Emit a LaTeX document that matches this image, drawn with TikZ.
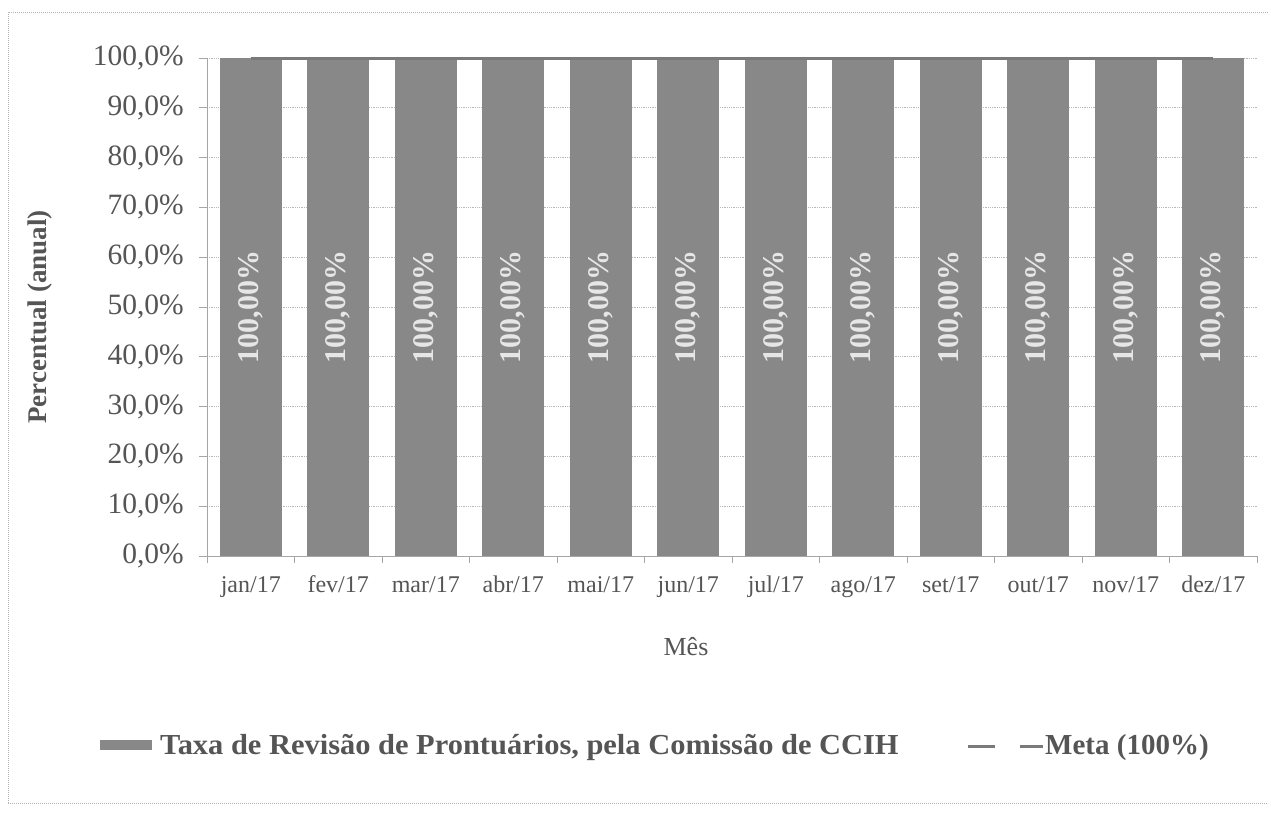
\documentclass[tikz,border=0pt]{standalone}
\usepackage{fontspec}
\setmainfont{Liberation Serif}
\definecolor{bargray}{HTML}{888888}
\definecolor{metagray}{HTML}{7A7A7A}
\definecolor{txtgray}{HTML}{555555}
\definecolor{gridgray}{HTML}{B8B8B8}
\definecolor{lblwhite}{HTML}{E6E6E6}
\tikzset{
  bar/.style={fill=bargray,draw=none},
  ticklbl/.style={font=\fontsize{29.5}{30}\selectfont,text=txtgray,anchor=east,inner sep=0pt},
  xlbl/.style={font=\fontsize{24}{26}\selectfont,text=txtgray,anchor=base,inner sep=0pt},
  barlbl/.style={font=\bfseries\fontsize{30}{30}\selectfont,text=lblwhite,rotate=90,inner sep=0pt},
  gridln/.style={draw=gridgray,densely dotted,line width=0.8pt},
  axisln/.style={draw=gray!70,line width=1pt},
  frameln/.style={draw=gray!60,densely dotted,line width=1pt},
  metaln/.style={draw=metagray,line width=3pt},
  legtxt/.style={font=\bfseries\fontsize{29}{30}\selectfont,text=txtgray,anchor=base west,inner sep=0pt}
}
\begin{document}
\begin{tikzpicture}[x=1pt,y=-1pt]
\useasboundingbox (0,0) rectangle (1271,812);
% frame
\coordinate (fbl) at (8,803);
\coordinate (ftl) at (8,12);
\coordinate (ftr) at (1268,12);
\coordinate (fbr) at (1268,803);
\draw[frameln] (fbl) -- (ftl) -- (ftr);
\draw[frameln] (fbl) -- (fbr);
% grid and y ticks
\foreach \i in {0,...,10}{
  \pgfmathsetmacro{\yy}{556-49.8*\i}
  \coordinate (gl\i) at (207,\yy);
  \coordinate (gr\i) at (1257,\yy);
  \coordinate (tk\i) at (199,\yy);
  \ifnum\i>0 \draw[gridln] (gl\i) -- (gr\i); \fi
  \draw[axisln] (tk\i) -- (gl\i);
  \pgfmathtruncatemacro{\pc}{10*\i}
  \node[ticklbl] (yl\i) at (184,\yy) {\pc,0\%};
}
% bars
\foreach \m [count=\k from 0] in {jan,fev,mar,abr,mai,jun,jul,ago,set,out,nov,dez}{
  \pgfmathsetmacro{\cx}{207+87.5*\k+43.75}
  \pgfmathsetmacro{\xa}{\cx-31}
  \pgfmathsetmacro{\xb}{\cx+31}
  \fill[bar] (\xa,58) rectangle (\xb,556);
  \node[barlbl] (bl\k) at (\cx,307) {100,00\%};
  \node[xlbl] (xl\k) at (\cx,592) {\m/17};
  \coordinate (c\k) at (\cx,58);
  \pgfmathsetmacro{\bx}{207+87.5*(\k+1)}
  \coordinate (xt\k a) at (\bx,556);
  \coordinate (xt\k b) at (\bx,563);
  \draw[axisln] (xt\k a) -- (xt\k b);
}
% meta line
\draw[metaln] (c0) -- (c11);
% axes
\coordinate (o) at (207,556);
\coordinate (ytop) at (207,58);
\coordinate (xend) at (1257,556);
\coordinate (x0b) at (207,563);
\draw[axisln] (ytop) -- (o) -- (xend);
\draw[axisln] (o) -- (x0b);
% axis titles
\node[font=\bfseries\fontsize{27}{28}\selectfont,text=txtgray,rotate=90] (ytitle) at (40,317) {Percentual (anual)};
\node[font=\fontsize{26}{28}\selectfont,text=txtgray] (xtitle) at (686,647) {Mês};
% legend
\node[bar,minimum width=52pt,minimum height=10pt,inner sep=0pt] (sw) at (126,745) {};
\node[legtxt,xscale=1.05] (lt1) at (160,754) {Taxa de Revisão de Prontuários, pela Comissão de CCIH};
\coordinate (ma) at (968,746);
\coordinate (mb) at (1043,746);
\draw[metaln,dash pattern=on 27pt off 25pt] (ma) -- (mb);
\node[legtxt] (lt2) at (1045,754) {Meta (100\%)};
\end{tikzpicture}
\end{document}
